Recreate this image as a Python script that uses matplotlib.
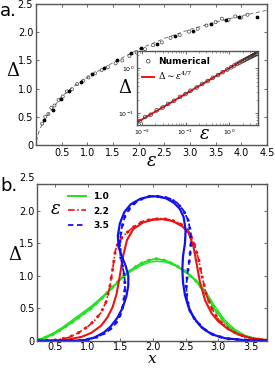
import matplotlib
matplotlib.use("Agg")
import matplotlib.pyplot as plt
import numpy as np

# ---- panel a: gap vs epsilon ----
eps_circ = [0.12, 0.18, 0.24, 0.3, 0.36, 0.44, 0.52, 0.6, 0.7, 0.8, 0.92, 1.02, 1.15, 1.28, 1.4,
            1.55, 1.68, 1.82, 1.96, 2.12, 2.28, 2.45, 2.62, 2.8, 2.98, 3.15, 3.32, 3.5, 3.62,
            3.75, 3.88, 4.0, 4.12]
delta_circ = [0.38, 0.50, 0.55, 0.66, 0.70, 0.80, 0.86, 0.95, 0.99, 1.08, 1.14, 1.20, 1.27, 1.33,
              1.38, 1.45, 1.50, 1.58, 1.64, 1.70, 1.77, 1.82, 1.90, 1.95, 2.01, 2.06, 2.12, 2.18,
              2.24, 2.22, 2.28, 2.26, 2.31]
eps_dot = [0.16, 0.33, 0.48, 0.65, 0.88, 1.1, 1.33, 1.58, 1.85, 2.05, 2.35, 2.7, 3.05, 3.4, 3.7,
           3.95, 4.3]
delta_dot = [0.45, 0.62, 0.82, 0.95, 1.12, 1.26, 1.36, 1.50, 1.63, 1.72, 1.80, 1.93, 2.03, 2.14,
             2.22, 2.27, 2.27]
eps_fit = [0.01, 0.03, 0.06, 0.1, 0.2, 0.3, 0.5, 0.75, 1.0, 1.5, 2.0, 2.5, 3.0, 3.5, 4.0, 4.5]
delta_fit = [0.07, 0.15, 0.24, 0.33, 0.5, 0.62, 0.86, 1.05, 1.2, 1.46, 1.7, 1.89, 2.05, 2.18,
             2.29, 2.39]

# inset (log-log)
eps_in = [0.009, 0.012, 0.016, 0.022, 0.03, 0.04, 0.055, 0.075, 0.1, 0.13, 0.18, 0.24, 0.32,
          0.42, 0.55, 0.7, 0.9, 1.1, 1.3, 1.5, 1.7, 1.9, 2.1, 2.3, 2.5, 2.7, 2.9, 3.1, 3.3, 3.5,
          3.7, 3.9, 4.1, 4.3]
delta_in = [0.066, 0.082, 0.092, 0.115, 0.133, 0.160, 0.188, 0.230, 0.265, 0.315, 0.372, 0.445,
            0.518, 0.612, 0.705, 0.815, 0.935, 1.05, 1.15, 1.25, 1.33, 1.41, 1.48, 1.55, 1.62,
            1.68, 1.74, 1.80, 1.86, 1.92, 1.97, 2.02, 2.07, 2.11]
eps_pow = [0.0078, 4.6]
delta_pow = [0.062, 2.40]

# ---- panel b: gap profiles ----
x_g1 = [0.22, 0.3, 0.45, 0.6, 0.75, 0.9, 1.05, 1.2, 1.35, 1.5, 1.65, 1.8, 1.95, 2.05, 2.2, 2.35,
        2.5, 2.65, 2.8, 2.95, 3.1, 3.25, 3.4, 3.55, 3.75]
y_g1 = [0.01, 0.03, 0.09, 0.18, 0.28, 0.39, 0.50, 0.64, 0.79, 0.95, 1.08, 1.18, 1.24, 1.26, 1.23,
        1.16, 1.06, 0.93, 0.74, 0.48, 0.28, 0.15, 0.07, 0.03, 0.01]
y_g2 = [0.02, 0.04, 0.11, 0.20, 0.31, 0.42, 0.53, 0.66, 0.80, 0.94, 1.06, 1.15, 1.21, 1.22, 1.21,
        1.15, 1.06, 0.94, 0.77, 0.53, 0.32, 0.18, 0.09, 0.04, 0.01]

x_r1 = [0.22, 0.5, 0.7, 0.9, 1.05, 1.2, 1.3, 1.38, 1.44, 1.49, 1.54, 1.6, 1.7, 1.85, 2.0, 2.15,
        2.3, 2.45, 2.55, 2.62, 2.67, 2.72, 2.8, 2.9, 3.0, 3.15, 3.3, 3.5, 3.75]
y_r1 = [0.0, 0.005, 0.02, 0.06, 0.12, 0.23, 0.36, 0.52, 0.72, 1.0, 1.3, 1.55, 1.72, 1.82, 1.86,
        1.87, 1.84, 1.76, 1.65, 1.45, 1.18, 0.9, 0.62, 0.42, 0.3, 0.18, 0.1, 0.04, 0.01]
x_r2 = [0.22, 0.5, 0.7, 0.85, 1.0, 1.1, 1.2, 1.28, 1.34, 1.38, 1.42, 1.47, 1.55, 1.7, 1.85, 2.0,
        2.15, 2.3, 2.45, 2.55, 2.63, 2.7, 2.75, 2.82, 2.9, 3.0, 3.15, 3.3, 3.5, 3.75]
y_r2 = [0.0, 0.01, 0.05, 0.12, 0.22, 0.31, 0.43, 0.6, 0.85, 1.1, 1.38, 1.52, 1.62, 1.75, 1.84,
        1.87, 1.88, 1.85, 1.78, 1.68, 1.5, 1.25, 1.0, 0.7, 0.5, 0.33, 0.19, 0.1, 0.04, 0.01]

x_b1 = [0.22, 0.8, 0.95, 1.1, 1.25, 1.35, 1.45, 1.53, 1.59, 1.62, 1.62, 1.58, 1.52, 1.47, 1.46,
        1.49, 1.56, 1.66, 1.8, 1.95, 2.05, 2.2, 2.32, 2.41, 2.47, 2.5, 2.49, 2.46, 2.45, 2.46,
        2.49, 2.55, 2.63, 2.75, 2.9, 3.1, 3.4, 3.75]
y_b1 = [0.0, 0.0, 0.01, 0.05, 0.13, 0.22, 0.35, 0.5, 0.68, 0.85, 1.0, 1.15, 1.3, 1.45, 1.62, 1.8,
        1.98, 2.1, 2.18, 2.22, 2.22, 2.19, 2.12, 2.03, 1.9, 1.7, 1.5, 1.3, 1.1, 0.9, 0.7, 0.5,
        0.35, 0.2, 0.1, 0.04, 0.01, 0.0]
x_b2 = [0.22, 0.85, 1.0, 1.15, 1.3, 1.4, 1.48, 1.53, 1.56, 1.57, 1.56, 1.53, 1.5, 1.49, 1.51,
        1.57, 1.67, 1.8, 1.95, 2.1, 2.25, 2.37, 2.47, 2.54, 2.58, 2.58, 2.56, 2.53, 2.51, 2.52,
        2.57, 2.66, 2.8, 2.95, 3.15, 3.45, 3.75]
y_b2 = [0.0, 0.0, 0.02, 0.06, 0.14, 0.23, 0.35, 0.5, 0.68, 0.85, 1.0, 1.15, 1.3, 1.5, 1.7, 1.92,
        2.08, 2.17, 2.22, 2.22, 2.19, 2.12, 2.0, 1.85, 1.65, 1.45, 1.25, 1.05, 0.85, 0.65, 0.45,
        0.3, 0.17, 0.08, 0.03, 0.01, 0.0]

eps_labels = ["1.0", "2.2", "3.5"]

GREEN = "#22e022"
RED = "#ee1111"
BLUE = "#1111ee"
SPINE = "#555555"

plt.rcParams["font.family"] = "DejaVu Sans"
plt.rcParams["mathtext.fontset"] = "dejavuserif"

fig = plt.figure(figsize=(2.75, 3.68), dpi=100)


def style(ax, fs=7):
    for s in ax.spines.values():
        s.set_color(SPINE)
        s.set_linewidth(1.0)
    ax.tick_params(direction="in", top=True, right=True, labelsize=fs, length=2.5,
                   width=0.6, color=SPINE, pad=2)


# panel a
ax1 = fig.add_axes([0.131, 0.606, 0.84, 0.383])
ax1.plot(eps_fit, delta_fit, ls=(0, (4, 3)), color="#777777", lw=0.7, zorder=1)
ax1.scatter(eps_circ, delta_circ, s=5, facecolors="none", edgecolors="#444444", linewidths=0.5)
ax1.scatter(eps_dot, delta_dot, s=3, color="black")
ax1.set_xlim(0, 4.5)
ax1.set_ylim(0, 2.5)
ax1.set_xticks([0.5, 1.0, 1.5, 2.0, 2.5, 3.0, 3.5, 4.0, 4.5])
ax1.set_yticks([0, 0.5, 1.0, 1.5, 2.0, 2.5])
ax1.set_yticklabels(["0", "0.5", "1.0", "1.5", "2.0", "2.5"])
style(ax1)
ax1.set_xlabel(r"$\epsilon$", fontsize=13, va="center")
ax1.xaxis.set_label_coords(0.5, -0.115)
ax1.set_ylabel(r"$\Delta$", fontsize=13, rotation=0, va="center", ha="center")
ax1.yaxis.set_label_coords(-0.1, 0.525)
fig.text(0.0, 0.995, "a.", fontsize=13, va="top", ha="left")

# inset
axi = fig.add_axes([0.498, 0.66, 0.44, 0.201])
axi.loglog(eps_pow, delta_pow, color=RED, lw=1.4, label=r"$\Delta \sim \epsilon^{4/7}$", zorder=2)
axi.scatter(eps_in, delta_in, s=7, facecolors="none", edgecolors="#333333", linewidths=0.5,
            label="Numerical", zorder=3)
axi.set_xlim(0.0078, 4.5)
axi.set_ylim(0.054, 2.4)
style(axi, fs=4.5)
axi.tick_params(which="minor", direction="in", top=True, right=True, length=1.3, width=0.4,
                color=SPINE)
axi.set_xticks([0.01, 0.1, 1.0])
axi.set_yticks([0.1, 1.0])
axi.set_xlabel(r"$\epsilon$", fontsize=13, va="center")
axi.xaxis.set_label_coords(0.56, -0.12)
axi.set_ylabel(r"$\Delta$", fontsize=13, rotation=0, va="center", ha="center")
axi.yaxis.set_label_coords(-0.1, 0.5)
h, l = axi.get_legend_handles_labels()
leg = axi.legend(h[::-1], l[::-1], loc="upper left", frameon=False, fontsize=6.5,
                 handlelength=1.3, handletextpad=0.4, borderaxespad=0.2, labelspacing=0.5)
for t in leg.get_texts():
    t.set_fontweight("bold")

# panel b
ax2 = fig.add_axes([0.135, 0.074, 0.836, 0.426])
ax2.plot(x_g1, y_g1, color=GREEN, lw=1.4, label=eps_labels[0])
ax2.plot(x_g1, y_g2, color=GREEN, lw=1.0)
ax2.plot(x_g1, y_g1, color=GREEN, lw=2.2, ls=(0, (1, 1.5)))
ax2.plot(x_r1, y_r1, color=RED, lw=1.5)
ax2.plot(x_r2, y_r2, color=RED, lw=1.2, ls=(0, (4, 1.5, 1, 1.5)), label=eps_labels[1])
ax2.plot(x_r2, y_r2, color=RED, lw=2.0, ls=(0, (1, 2)))
ax2.plot(x_b1, y_b1, color=BLUE, lw=1.6)
ax2.plot(x_b2, y_b2, color=BLUE, lw=1.3, ls=(0, (3, 2)), label=eps_labels[2])
ax2.plot(x_b2, y_b2, color=BLUE, lw=2.0, ls=(0, (1, 2)))
ax2.set_xlim(0.22, 3.75)
ax2.set_ylim(0, 2.41)
ax2.set_xticks([0.5, 1.0, 1.5, 2.0, 2.5, 3.0, 3.5])
ax2.set_yticks([0, 0.5, 1.0, 1.5, 2.0])
ax2.set_yticklabels(["0", "0.5", "1.0", "1.5", "2.0"])
style(ax2)
ax2.tick_params(axis="x", pad=1)
ax2.text(-0.012, 2.5, "2.5", transform=ax2.get_yaxis_transform(), ha="right", va="center",
         fontsize=7, clip_on=False)
ax2.set_xlabel(r"$x$", fontsize=11, va="top")
ax2.xaxis.set_label_coords(0.5, -0.068)
ax2.set_ylabel(r"$\Delta$", fontsize=13, rotation=0, va="center", ha="center")
ax2.yaxis.set_label_coords(-0.097, 0.545)
h2, l2 = ax2.get_legend_handles_labels()
leg2 = ax2.legend(h2, l2, loc="upper left", bbox_to_anchor=(0.1, 1.0), frameon=False,
                  fontsize=6.5, handlelength=2.0, handletextpad=0.8, labelspacing=0.6)
for t in leg2.get_texts():
    t.set_fontweight("bold")
ax2.text(0.08, 0.84, r"$\epsilon$", transform=ax2.transAxes, fontsize=13, ha="center",
         va="center")
fig.text(0.0, 0.52, "b.", fontsize=13, va="top", ha="left")

fig.savefig("out.png", dpi=100)
